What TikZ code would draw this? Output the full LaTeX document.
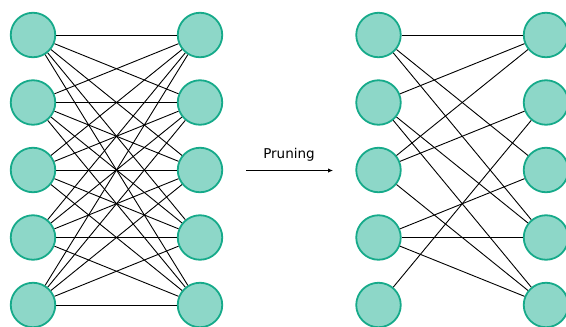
\documentclass[tikz,border=0pt]{standalone}
\usepackage{fontspec}
\setmainfont{DejaVu Sans}
\usepackage{tikz}
\usetikzlibrary{arrows.meta}
\definecolor{mint}{RGB}{141,215,200}
\definecolor{jade}{RGB}{22,170,138}

\tikzset{
    neuron/.style={circle,draw=jade,fill=mint,line width=1.8pt,minimum size=44.5pt,inner sep=0pt},
    synapse/.style={line width=0.9pt,black}
}

\begin{document}
\begin{tikzpicture}[x=1pt,y=-1pt]
    \useasboundingbox (0,0) rectangle (566,327);
    % dense network
    \node[neuron] (inA1) at (33,35) {};
    \node[neuron] (inA2) at (33,102.5) {};
    \node[neuron] (inA3) at (33,170) {};
    \node[neuron] (inA4) at (33,237.5) {};
    \node[neuron] (inA5) at (33,305) {};
    \node[neuron] (outA1) at (200,35) {};
    \node[neuron] (outA2) at (200,102.5) {};
    \node[neuron] (outA3) at (200,170) {};
    \node[neuron] (outA4) at (200,237.5) {};
    \node[neuron] (outA5) at (200,305) {};
    \foreach \i in {1,...,5}
        \foreach \j in {1,...,5}
            \draw[synapse] (inA\i) -- (outA\j);
    % pruned network
    \node[neuron] (inB1) at (378.5,35) {};
    \node[neuron] (inB2) at (378.5,102.5) {};
    \node[neuron] (inB3) at (378.5,170) {};
    \node[neuron] (inB4) at (378.5,237.5) {};
    \node[neuron] (inB5) at (378.5,305) {};
    \node[neuron] (outB1) at (546,35) {};
    \node[neuron] (outB2) at (546,102.5) {};
    \node[neuron] (outB3) at (546,170) {};
    \node[neuron] (outB4) at (546,237.5) {};
    \node[neuron] (outB5) at (546,305) {};
    \foreach \i/\j in {1/1,1/3,1/4,2/1,2/4,2/5,3/1,3/2,3/5,4/3,4/4,4/5,5/2}
        \draw[synapse] (inB\i) -- (outB\j);
    % pruning step
    \coordinate (pruneStart) at (246,170.5);
    \coordinate (pruneEnd) at (333,170.5);
    \draw[line width=0.9pt,-{Latex[length=5pt,width=4.5pt]}] (pruneStart) -- (pruneEnd);
    \node[font=\fontsize{13.5}{16}\selectfont] (pruneLabel) at (289,154.5) {Pruning};
\end{tikzpicture}
\end{document}
